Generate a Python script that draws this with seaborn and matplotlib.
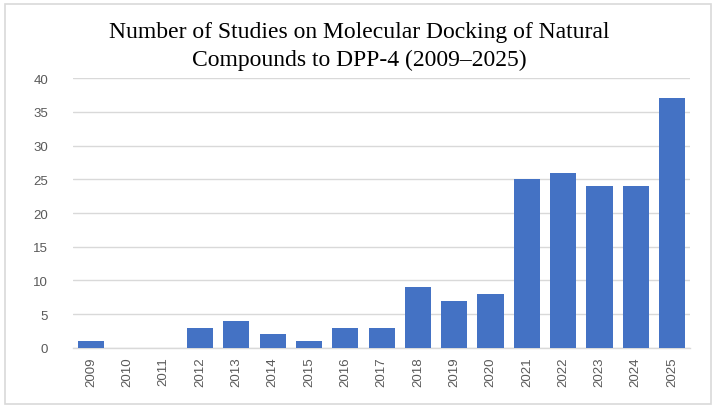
import matplotlib
matplotlib.use("Agg")
import matplotlib.pyplot as plt
import seaborn as sns
import pandas as pd
from matplotlib.patches import Rectangle

# Data
years = [str(y) for y in range(2009, 2026)]
studies = [1, 0, 0, 3, 4, 2, 1, 3, 3, 9, 7, 8, 25, 26, 24, 24, 37]

df = pd.DataFrame({"year": years, "studies": studies})

sns.set_theme(style="white")
plt.rcParams["font.family"] = ["Liberation Sans", "DejaVu Sans"]

fig = plt.figure(figsize=(7.16, 4.10), dpi=100)
ax = fig.add_axes([0.102, 0.149, 0.862, 0.658])

sns.barplot(data=df, x="year", y="studies", color="#4472C4", saturation=1,
            width=0.72, linewidth=0, ax=ax, zorder=3)

ax.set_ylim(0, 40)
ax.set_yticks(range(0, 41, 5))
ax.yaxis.grid(True, color="#D9D9D9", linewidth=1, zorder=0)
ax.set_axisbelow(True)
ax.set_xlabel("")
ax.set_ylabel("")
ax.tick_params(axis="x", rotation=90, labelsize=9.5, colors="#595959", length=0, pad=6)
ax.tick_params(axis="y", labelsize=9.5, colors="#595959", length=0, pad=18)
for side in ["top", "right", "left"]:
    ax.spines[side].set_visible(False)
ax.spines["bottom"].set_color("#D9D9D9")
ax.spines["bottom"].set_linewidth(1)

fig.text(0.502, 0.828, "Number of Studies on Molecular Docking of Natural\nCompounds to DPP-4 (2009\u20132025)",
         ha="center", va="bottom", fontsize=17, family=["Liberation Serif", "DejaVu Serif"],
         color="#000000", linespacing=1.4)

# light frame around the whole chart
fig.patches.append(Rectangle((0.007, 0.012), 0.986, 0.976, transform=fig.transFigure,
                             fill=False, edgecolor="#D9D9D9", linewidth=1.2))

fig.savefig("out.png", dpi=100)
